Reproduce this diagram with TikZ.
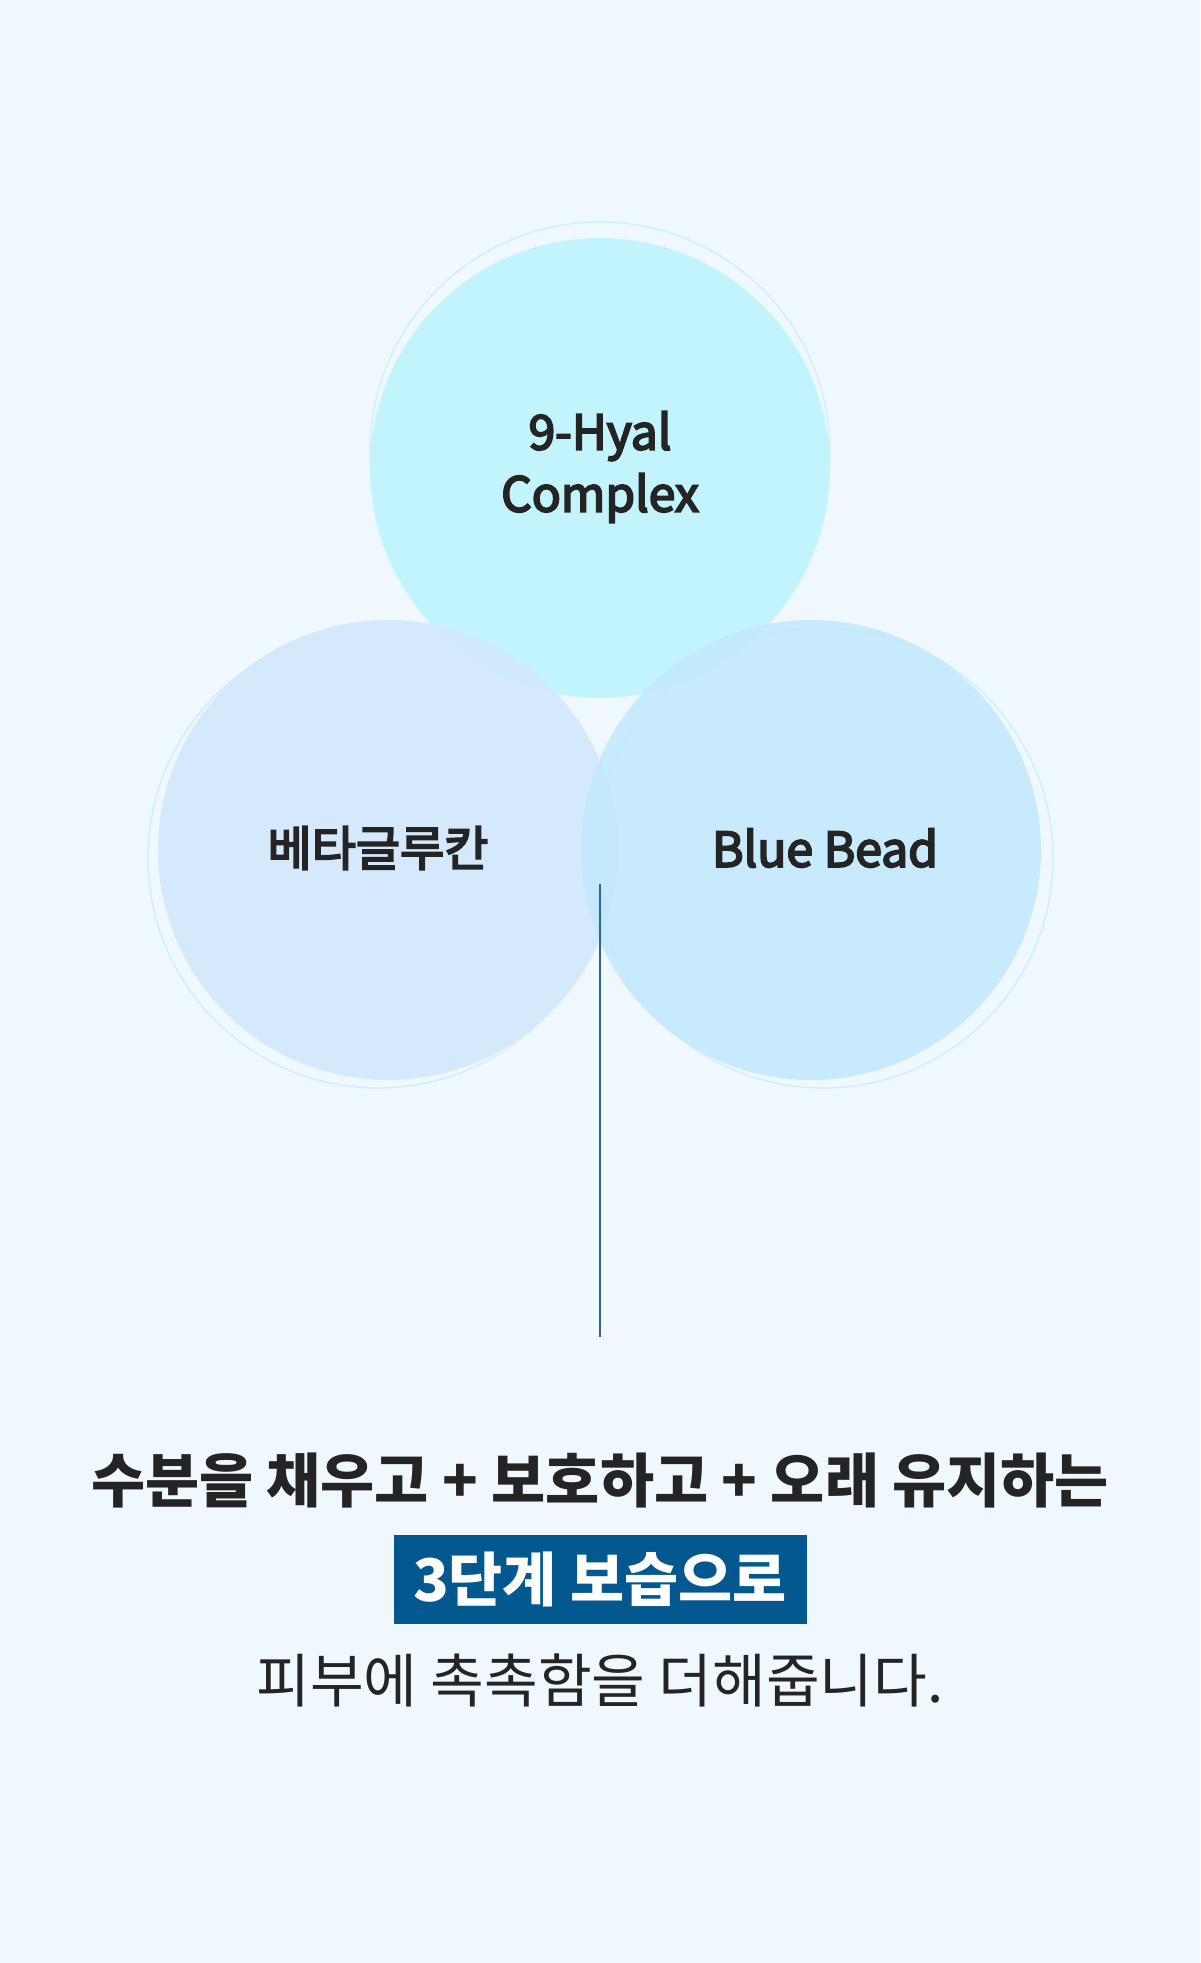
\documentclass[tikz,border=0pt]{standalone}
\usepackage{fontspec}
\setmainfont{Noto Sans CJK KR}
\newfontfamily\krsemi[FakeBold=4]{Noto Sans CJK KR}
\usetikzlibrary{positioning}
\definecolor{bgblue}{HTML}{EFF8FE}
\definecolor{hyalfill}{HTML}{C2F4FE}
\definecolor{betafill}{HTML}{D3E8FD}
\definecolor{beadfill}{HTML}{C3E9FC}
\definecolor{ringline}{HTML}{CDEFFA}
\definecolor{stemline}{HTML}{2A659B}
\definecolor{boxblue}{HTML}{02588F}
\definecolor{inktext}{HTML}{242424}

\begin{document}
\begin{tikzpicture}[x=0.5pt, y=-0.5pt,
                    ballnode/.style={circle, inner sep=0pt, minimum size=230pt, fill opacity=0.9},
                    ringnode/.style={circle, inner sep=0pt, minimum size=230pt, draw=ringline, line width=0.7pt},
                    namenode/.style={text=inktext, font=\krsemi\fontsize{24}{31}\selectfont, align=center},
                ]
                    %Background
                    \fill[bgblue] (0,0) rectangle (1200,1963);
                    \useasboundingbox (0,0) rectangle (1200,1963);

                    %Rings
                    \node[ringnode](hyalring) at (600,452) {};
                    \node[ringnode](betaring) at (378,858) {};
                    \node[ringnode](beadring) at (823,858) {};

                    %Circles
                    \node[ballnode, fill=hyalfill, fill opacity=1](hyal) at (600,468) {};
                    \node[ballnode, fill=betafill](beta) at (388,850) {};
                    \node[ballnode, fill=beadfill](bead) at (811,850) {};

                    %Labels
                    \node[namenode] at (600,467) {9-Hyal\\Complex};
                    \node[namenode] at (378,848) {베타글루칸};
                    \node[namenode] at (825,848) {Blue Bead};

                    %Line
                    \coordinate (stemtop) at (600,884);
                    \coordinate (stembot) at (600,1337);
                    \draw[stemline, line width=0.6pt](stemtop) -- (stembot);

                    %Text
                    \node[text=inktext, font=\bfseries\fontsize{29.4}{35}\selectfont](line1) at (600,1480) {수분을 채우고 + 보호하고 + 오래 유지하는};
                    \node[fill=boxblue, text=white, font=\bfseries\fontsize{29.4}{35}\selectfont, minimum width=206.5pt, minimum height=44.5pt, inner sep=0pt](line2) at (600,1579) {3단계 보습으로};
                    \node[text=inktext, font=\fontsize{29.2}{35}\selectfont](line3) at (600,1680) {피부에 촉촉함을 더해줍니다.};
                \end{tikzpicture}
\end{document}
